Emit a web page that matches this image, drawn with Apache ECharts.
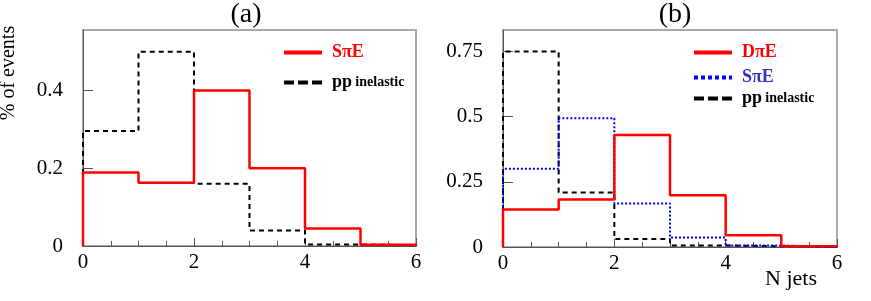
<!DOCTYPE html>
<html>
<head>
<meta charset="utf-8">
<script src="https://cdn.jsdelivr.net/npm/echarts@6/dist/echarts.min.js"></script>
<style>html,body{margin:0;padding:0;background:#fff}#c{width:871px;height:301px}</style>
</head>
<body>
<div id="c"></div>
<script>
// Bin edges (N jets) and bin contents
const binEdges = [0, 1, 2, 3, 4, 5, 6];
const aSpiE = [0.189, 0.163, 0.400, 0.200, 0.045, 0.003];
const aPP   = [0.296, 0.500, 0.160, 0.040, 0.004, 0.002];
const bDpiE = [0.144, 0.182, 0.430, 0.199, 0.045, 0.003];
const bSpiE = [0.300, 0.494, 0.167, 0.036, 0.006, 0.000];
const bPP   = [0.750, 0.209, 0.031, 0.006, 0.003, 0.002];
const xTicks = [0, 2, 4, 6];
const aYTicks = [0, 0.2, 0.4];
const bYTicks = [0, 0.25, 0.5, 0.75];

function steps(vals) {
  const pts = [[binEdges[0], 0]];
  vals.forEach((v, i) => { pts.push([binEdges[i], v]); pts.push([binEdges[i + 1], v]); });
  pts.push([binEdges[binEdges.length - 1], 0]);
  return pts;
}

const serif = 'Liberation Serif';
const labelMap = {
  'a-spie': '{r|SπE}',
  'a-pp': '{k|pp} {ks|inelastic}',
  'b-dpie': '{r|DπE}',
  'b-spie': '{b|SπE}',
  'b-pp': '{k|pp} {ks|inelastic}'
};
const rich = {
  r: {fontFamily: serif, fontWeight: 'bold', fontSize: 18, lineHeight: 16, color: '#ff0000'},
  b: {fontFamily: serif, fontWeight: 'bold', fontSize: 18, lineHeight: 16, color: '#3333cc'},
  k: {fontFamily: serif, fontWeight: 'bold', fontSize: 18, lineHeight: 16, color: '#000'},
  ks: {fontFamily: serif, fontWeight: 'bold', fontSize: 14, lineHeight: 16, color: '#000'}
};

function xAxis(gi) {
  return {
    type: 'value', gridIndex: gi, min: 0, max: 6, interval: 2,
    axisLine: {show: true, lineStyle: {color: '#555', width: 1}},
    axisTick: {show: true, inside: true, length: 8, lineStyle: {color: '#555'}},
    minorTick: {show: true, splitNumber: 4, length: 5, lineStyle: {color: '#555'}},
    splitLine: {show: false},
    axisLabel: {color: '#000', fontFamily: serif, fontSize: 21, margin: 6,
      customValues: xTicks}
  };
}
function yAxis(gi, max, interval, ticks) {
  return {
    type: 'value', gridIndex: gi, min: 0, max: max, interval: interval,
    axisLine: {show: true, lineStyle: {color: '#555', width: 1}},
    axisTick: {show: true, inside: true, length: 10, lineStyle: {color: '#555'}, customValues: ticks},
    splitLine: {show: false},
    axisLabel: {color: '#000', fontFamily: serif, fontSize: 21, margin: 20,
      customValues: ticks}
  };
}

const dashLegend = {type: [10, 4], width: 4};
const dotLegend = {type: [4, 3], width: 4};
function legendItem(item, left, top) {
  return {
    data: [item], left: left, top: top, orient: 'vertical', itemWidth: 38, itemHeight: 14,
    formatter: n => labelMap[n], textStyle: {rich: rich, padding: [0, 0, 0, 5]},
    lineStyle: {width: 4}, itemStyle: {opacity: 0}, selectedMode: false
  };
}

const option = {
  animation: false,
  title: [
    {text: '(a)', left: 241, top: -4, textAlign: 'center', textStyle: {fontFamily: serif, fontSize: 28, fontWeight: 'normal', color: '#000'}},
    {text: '(b)', left: 670, top: -4, textAlign: 'center', textStyle: {fontFamily: serif, fontSize: 28, fontWeight: 'normal', color: '#000'}}
  ],
  grid: [
    {left: 83, right: 455, top: 30, bottom: 55, show: true, borderColor: '#aaaaaa', borderWidth: 2, backgroundColor: '#fff'},
    {left: 503, right: 34, top: 30, bottom: 54, show: true, borderColor: '#aaaaaa', borderWidth: 2, backgroundColor: '#fff'}
  ],
  xAxis: [xAxis(0), xAxis(1)],
  yAxis: [yAxis(0, 0.556, 0.2, aYTicks), yAxis(1, 0.833, 0.25, bYTicks)],
  legend: [
    legendItem('a-spie', 277, 38.5),
    legendItem({name: 'a-pp', lineStyle: dashLegend}, 277, 68.5),
    legendItem('b-dpie', 687, 38.5),
    legendItem({name: 'b-spie', lineStyle: dotLegend}, 687, 63.5),
    legendItem({name: 'b-pp', lineStyle: dashLegend}, 687, 84.5)
  ],
  series: [
    {name: 'a-pp', type: 'line', xAxisIndex: 0, yAxisIndex: 0, data: steps(aPP), symbol: 'none', color: '#000',
      lineStyle: {color: '#000', width: 2, type: [5, 4]}},
    {name: 'a-spie', type: 'line', xAxisIndex: 0, yAxisIndex: 0, data: steps(aSpiE), symbol: 'none', color: '#ff0000',
      lineStyle: {color: '#ff0000', width: 2.5}},
    {name: 'b-pp', type: 'line', xAxisIndex: 1, yAxisIndex: 1, data: steps(bPP), symbol: 'none', color: '#000',
      lineStyle: {color: '#000', width: 2, type: [5, 4]}},
    {name: 'b-spie', type: 'line', xAxisIndex: 1, yAxisIndex: 1, data: steps(bSpiE), symbol: 'none', color: '#0000ff',
      lineStyle: {color: '#0000ff', width: 2, type: [2, 2]}},
    {name: 'b-dpie', type: 'line', xAxisIndex: 1, yAxisIndex: 1, data: steps(bDpiE), symbol: 'none', color: '#ff0000',
      lineStyle: {color: '#ff0000', width: 2.5}}
  ],
  graphic: [
    {type: 'text', x: 9, y: 73, rotation: Math.PI / 2,
      style: {text: '% of events', fontFamily: serif, fontSize: 20, fill: '#000', align: 'center', verticalAlign: 'middle'}},
    {type: 'text', x: 765, y: 279,
      style: {text: 'N jets', fontFamily: serif, fontSize: 22, fill: '#000', align: 'left', verticalAlign: 'middle'}}
  ]
};
echarts.init(document.getElementById('c')).setOption(option);
</script>
</body>
</html>
